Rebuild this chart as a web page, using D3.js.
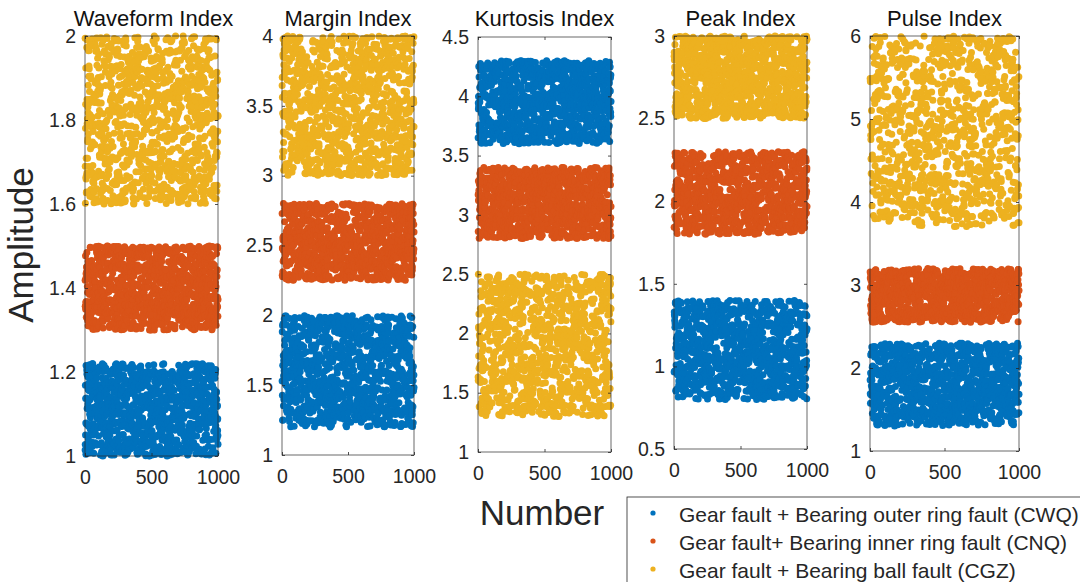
<!DOCTYPE html>
<html>
<head>
<meta charset="utf-8">
<script src="https://cdn.jsdelivr.net/npm/d3@7"></script>
<style>
  html, body { margin: 0; padding: 0; background: #fff; }
  svg { display: block; font-family: "Liberation Sans", Arial, Helvetica, sans-serif; }
</style>
</head>
<body>
<svg id="chart" width="1080" height="582"></svg>
<script>
// Condition-indicator names, one panel each
const panelTitles = ["Waveform Index", "Margin Index", "Kurtosis Index", "Peak Index", "Pulse Index"];
const yDomains = [[1, 2], [1, 4], [1, 4.5], [0.5, 3], [1, 6]];
const yTickValues = [
  [1, 1.2, 1.4, 1.6, 1.8, 2],
  [1, 1.5, 2, 2.5, 3, 3.5, 4],
  [1, 1.5, 2, 2.5, 3, 3.5, 4, 4.5],
  [0.5, 1, 1.5, 2, 2.5, 3],
  [1, 2, 3, 4, 5, 6]
];
const xTickValues = [0, 500, 1000];

// Fault classes
const seriesNames = [
  "Gear fault + Bearing outer ring fault (CWQ)",
  "Gear fault+ Bearing inner ring fault (CNQ)",
  "Gear fault + Bearing ball fault (CGZ)"
];
const seriesColors = ["#0072BD", "#D95319", "#EDB120"];

// Amplitude band [min, max] of each class, per indicator
const cwqBands = [[1.0, 1.22], [1.2, 2.0], [3.6, 4.3], [0.8, 1.4], [1.3, 2.3]];
const cnqBands = [[1.3, 1.5], [2.25, 2.8], [2.8, 3.4], [1.8, 2.3], [2.55, 3.2]];
const cgzBands = [[1.6, 2.0], [3.0, 4.0], [1.3, 2.5], [2.5, 3.0], [3.7, 6.0]];
const samplesPerClass = 1000;

// Plot boxes: [left, right, top, bottom]
const boxes = [
  [85, 218, 36, 456],
  [282, 414, 36, 455],
  [478, 611, 37, 452],
  [674, 807, 36, 449],
  [870, 1019, 36, 451]
];

const svg = d3.select("#chart");
const axisColor = "#262626";
const bands = [cwqBands, cnqBands, cgzBands];

// Seeded sample generator so every sample set is reproducible
const sampleAmp = d3.randomUniform.source(d3.randomLcg(0.4172));

panelTitles.forEach((title, p) => {
  const [x0, x1, y0, y1] = boxes[p];
  const x = d3.scaleLinear().domain([0, 1000]).range([x0, x1]);
  const y = d3.scaleLinear().domain(yDomains[p]).range([y1, y0]);
  const g = svg.append("g");

  // samples of each class
  bands.forEach((b, s) => {
    const [lo, hi] = b[p];
    const gen = sampleAmp(lo, hi);
    const pts = d3.range(1, samplesPerClass + 1).map(n => ({ n, v: gen() }));
    g.append("g").selectAll("circle").data(pts).join("circle")
      .attr("cx", d => x(d.n))
      .attr("cy", d => y(d.v))
      .attr("r", 3.5)
      .attr("fill", seriesColors[s]);
  });

  // box + inward ticks
  const tl = 3;
  const axG = svg.append("g");
  axG.append("rect")
    .attr("x", x0).attr("y", y0)
    .attr("width", x1 - x0).attr("height", y1 - y0)
    .attr("fill", "none").attr("stroke", axisColor).attr("stroke-width", 0.8).attr("stroke-opacity", 0.85);

  const bottom = d3.axisBottom(x).tickValues(xTickValues).tickSize(-tl).tickPadding(14).tickFormat(d3.format("d"));
  const left = d3.axisLeft(y).tickValues(yTickValues[p]).tickSize(-tl).tickPadding(9).tickFormat(d => String(d));
  const top = d3.axisTop(x).tickValues(xTickValues).tickSize(-tl).tickFormat("");
  const right = d3.axisRight(y).tickValues(yTickValues[p]).tickSize(-tl).tickFormat("");

  [[bottom, `translate(0,${y1})`], [left, `translate(${x0},0)`], [top, `translate(0,${y0})`], [right, `translate(${x1},0)`]]
    .forEach(([ax, tr]) => {
      const a = axG.append("g").attr("transform", tr).call(ax);
      a.select(".domain").remove();
      a.selectAll(".tick line").attr("stroke", axisColor).attr("stroke-width", 0.8);
      a.selectAll(".tick text").attr("fill", axisColor).style("font-size", "19.5px");
    });

  svg.append("text")
    .attr("x", (x0 + x1) / 2 + (p === 0 ? 2 : 0)).attr("y", 26)
    .attr("text-anchor", "middle")
    .attr("fill", "#111")
    .style("font-size", "22px")
    .text(title);
});

// shared axis labels
svg.append("text")
  .attr("transform", "translate(33,245) rotate(-90)")
  .attr("text-anchor", "middle")
  .attr("fill", axisColor)
  .style("font-size", "35px")
  .text("Amplitude");

svg.append("text")
  .attr("x", 542).attr("y", 525)
  .attr("text-anchor", "middle")
  .attr("fill", axisColor)
  .style("font-size", "35px")
  .text("Number");

// legend
const lg = svg.append("g");
lg.append("rect")
  .attr("x", 627).attr("y", 497)
  .attr("width", 470).attr("height", 100)
  .attr("fill", "#fff").attr("stroke", axisColor).attr("stroke-width", 0.8);
seriesNames.forEach((name, i) => {
  const cy = 513 + i * 28;
  lg.append("circle").attr("cx", 653).attr("cy", cy).attr("r", 2.6).attr("fill", seriesColors[i]);
  lg.append("text")
    .attr("x", 679).attr("y", cy + 8.5)
    .attr("fill", axisColor)
    .style("font-size", "21px")
    .text(name);
});
</script>
</body>
</html>
